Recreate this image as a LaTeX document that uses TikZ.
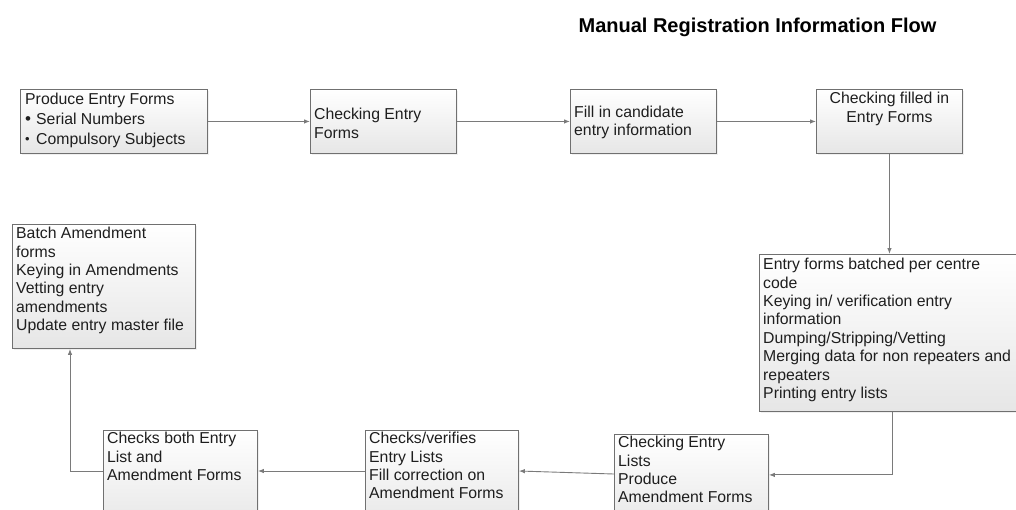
\documentclass[tikz,border=0pt]{standalone}
\usepackage{fontspec}
\setmainfont{Liberation Sans}
\usetikzlibrary{arrows.meta,calc,shadows}
\definecolor{edgegray}{HTML}{707070}
\definecolor{linegray}{HTML}{7A7A7A}
\definecolor{inkgray}{HTML}{1E1E1E}
\definecolor{fillbot}{HTML}{E6E6E6}
\tikzset{
  flowbox/.style={draw=edgegray, line width=0.9pt, top color=white, bottom color=fillbot,
    inner sep=0pt, anchor=north west,
    drop shadow={shadow xshift=1.5pt, shadow yshift=-1.5pt, opacity=0.12}},
  boxtext/.style={font=\fontsize{15.8}{18.4}\selectfont, text=inkgray, inner sep=0pt, align=left},
  flow/.style={draw=linegray, line width=0.9pt, -{Latex[length=6pt,width=4.5pt]}},
}
\begin{document}
\begin{tikzpicture}[x=1pt,y=-1pt]
\useasboundingbox (0,0) rectangle (1016,509);
\clip (0,0) rectangle (1016,509);

% title
\node[font=\bfseries\fontsize{20}{23}\selectfont, text=black, anchor=base] (title) at (757.5,32) {Manual Registration Information Flow};

% boxes (top-left corner, size)
\node[flowbox, minimum width=187pt, minimum height=64pt] (b1) at (20,89) {};
\node[flowbox, minimum width=146pt, minimum height=64pt] (b2) at (310,89) {};
\node[flowbox, minimum width=146pt, minimum height=64pt] (b3) at (570,89) {};
\node[flowbox, minimum width=146pt, minimum height=64pt] (b4) at (816,89) {};
\node[flowbox, minimum width=262pt, minimum height=157pt] (b5) at (759,254) {};
\node[flowbox, minimum width=154pt, minimum height=100pt] (b6) at (614,434) {};
\node[flowbox, minimum width=153pt, minimum height=100pt] (b7) at (365,430) {};
\node[flowbox, minimum width=154pt, minimum height=100pt] (b8) at (103,430) {};
\node[flowbox, minimum width=183pt, minimum height=124pt] (b9) at (12,224) {};

% box texts
\node[boxtext, anchor=north west] (t1) at ($(b1.north west)+(5,4)$)
  {Produce Entry Forms\\[1.5pt]
   \makebox[11pt][l]{\fontsize{17}{17}\selectfont\textbullet}Serial Numbers\\[1.5pt]
   \makebox[11pt][l]{\raisebox{0.5pt}{\fontsize{13}{13}\selectfont\textbullet}}Compulsory Subjects};
\node[boxtext, anchor=west] (t2) at ($(b2.west)+(4,2)$) {Checking Entry\\Forms};
\node[boxtext, anchor=west] (t3) at ($(b3.west)+(4,1)$) {Fill in candidate\\entry information};
\node[boxtext, anchor=north, align=center] (t4) at ($(b4.north)+(0,3)$) {Checking filled in\\Entry Forms};
\node[boxtext, anchor=north west] (t5) at ($(b5.north west)+(4,4)$)
  {Entry forms batched per centre\\code\\Keying in/ verification entry\\information\\Dumping/Stripping/Vetting\\Merging data for non repeaters and\\repeaters\\Printing entry lists};
\node[boxtext, anchor=north west] (t6) at ($(b6.north west)+(4,2)$)
  {Checking Entry\\Lists\\Produce\\Amendment Forms};
\node[boxtext, anchor=north west] (t7) at ($(b7.north west)+(4,2)$)
  {Checks/verifies\\Entry Lists\\Fill correction on\\Amendment Forms};
\node[boxtext, anchor=north west] (t8) at ($(b8.north west)+(4,2)$)
  {Checks both Entry\\List and\\Amendment Forms};
\node[boxtext, anchor=north west] (t9) at ($(b9.north west)+(4,3)$)
  {Batch Amendment\\forms\\Keying in Amendments\\Vetting entry\\amendments\\Update entry master file};

% connectors
\coordinate (c5) at ($(b5.south west)+(133,0)$);
\coordinate (c5b) at ($(c5)+(0,63)$);
\coordinate (c6w) at ($(b6.north west)+(0,40)$);
\coordinate (c7e) at ($(b7.north east)+(0,41)$);
\coordinate (c7w) at ($(b7.north west)+(0,41)$);
\coordinate (c8e) at ($(b8.north east)+(0,41)$);
\coordinate (c8w) at ($(b8.north west)+(0,41)$);
\coordinate (c9) at ($(b9.south west)+(58,0)$);

\draw[flow] (b1.east) -- (b2.west);
\draw[flow] (b2.east) -- (b3.west);
\draw[flow] (b3.east) -- (b4.west);
\draw[flow] (b4.south) -- (b4.south |- b5.north);
\draw[flow] (c5) -- (c5b) -- (c5b -| b6.east);
\draw[flow] (c6w) -- (c7e);
\draw[flow] (c7w) -- (c8e);
\draw[flow] (c8w) -- (c8w -| c9) -- (c9);
\end{tikzpicture}
\end{document}
